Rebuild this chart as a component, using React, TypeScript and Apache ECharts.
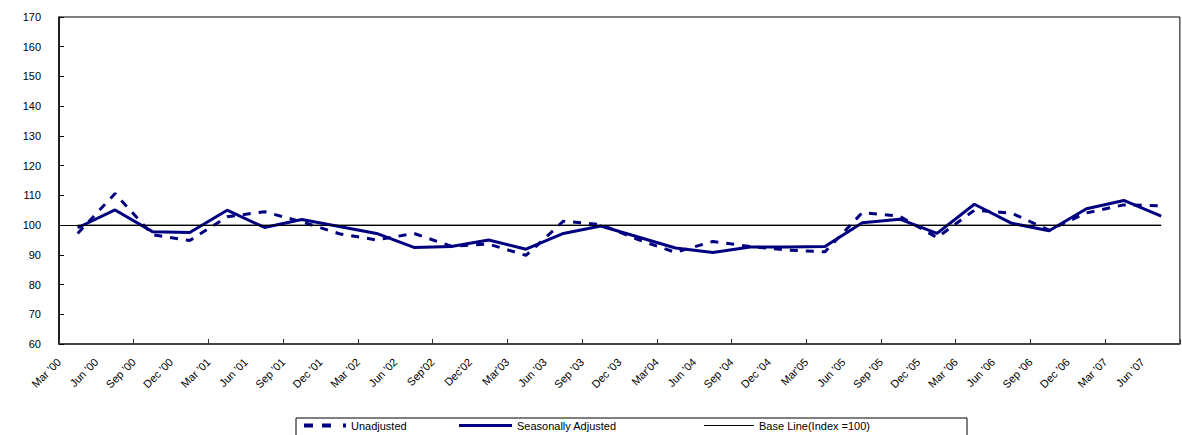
import React, { useEffect, useRef } from "react";
import * as echarts from "echarts";

const categories = [
  "Mar '00", "Jun '00", "Sep '00", "Dec '00",
  "Mar '01", "Jun '01", "Sep '01", "Dec '01",
  "Mar '02", "Jun '02", "Sep'02", "Dec'02",
  "Mar'03", "Jun '03", "Sep '03", "Dec '03",
  "Mar'04", "Jun '04", "Sep '04", "Dec '04",
  "Mar'05", "Jun '05", "Sep '05", "Dec '05",
  "Mar '06", "Jun '06", "Sep '06", "Dec '06",
  "Mar '07", "Jun '07",
];

const unadjusted = [
  97.2, 110.6, 96.8, 94.8, 102.8, 104.5, 101.1, 97.1, 95.0, 97.2,
  92.9, 93.6, 89.8, 101.3, 100.2, 95.1, 90.8, 94.5, 92.8, 91.6,
  91.0, 104.2, 103.0, 95.8, 105.0, 104.0, 98.3, 104.1, 106.8, 106.5,
];

const seasonallyAdjusted = [
  99.1, 105.1, 97.8, 97.5, 105.0, 99.2, 101.9, 99.5, 97.2, 92.5,
  92.8, 95.0, 91.9, 97.2, 99.7, 96.0, 92.3, 90.8, 92.6, 92.6,
  92.8, 100.8, 102.0, 97.2, 107.0, 100.6, 98.1, 105.5, 108.3, 103.0,
];

const baseValue = 100;
const baseLine = categories.map(() => baseValue);

const NAMES = ["Unadjusted", "Seasonally Adjusted", "Base Line(Index =100)"];
const NAVY = "#000080";
const FONT = "Arial, 'Liberation Sans', sans-serif";
const DASH_ICON = "path://M0,0h9v4h-9zM18,0h9v4h-9zM39,0h3v4h-3z";

export default function App() {
  const ref = useRef<HTMLDivElement>(null);

  useEffect(() => {
    if (!ref.current) return;
    const chart = echarts.init(ref.current, null, { renderer: "svg" });
    const legendCommon = {
      top: 420,
      padding: 0,
      textStyle: { fontSize: 11, color: "#000", fontFamily: FONT },
      selectedMode: false,
    };
    chart.setOption({
      animation: false,
      backgroundColor: "#fff",
      textStyle: { fontFamily: FONT },
      grid: {
        left: 59,
        top: 17,
        right: -6,
        bottom: 91,
        show: true,
        borderColor: "#000",
        borderWidth: 1,
        containLabel: false,
      },
      legend: [
        { ...legendCommon, left: 304, itemWidth: 42, itemHeight: 4, data: [{ name: NAMES[0], icon: DASH_ICON }] },
        { ...legendCommon, left: 459, itemWidth: 53, itemHeight: 3, data: [{ name: NAMES[1], icon: "rect" }] },
        { ...legendCommon, left: 704, itemWidth: 50, itemHeight: 1, data: [{ name: NAMES[2], icon: "rect" }] },
      ],
      graphic: [
        {
          type: "rect",
          shape: { x: 296, y: 418, width: 671, height: 24 },
          style: { fill: "none", stroke: "#000", lineWidth: 1 },
          silent: true,
        },
      ],
      xAxis: [
        {
          type: "category",
          data: categories,
          boundaryGap: true,
          axisLine: { show: true, lineStyle: { color: "#333", width: 1.5 } },
          axisTick: { show: true, inside: true, interval: 1, length: 5, lineStyle: { color: "#333" } },
          axisLabel: { show: false },
          splitLine: { show: false },
        },
        {
          type: "category",
          position: "bottom",
          data: [...categories, ""],
          boundaryGap: false,
          axisLine: { show: false },
          axisTick: { show: false },
          axisLabel: {
            interval: 0,
            rotate: 45,
            margin: 16,
            fontSize: 11,
            color: "#000",
            fontFamily: FONT,
          },
          splitLine: { show: false },
        },
      ],
      yAxis: {
        type: "value",
        min: 60,
        max: 170,
        interval: 10,
        axisLine: { show: true, lineStyle: { color: "#000", width: 1.5 } },
        axisTick: { show: true, inside: true, length: 5, lineStyle: { color: "#000" } },
        axisLabel: { margin: 18, fontSize: 11, color: "#000", fontFamily: FONT },
        splitLine: { show: false },
      },
      series: [
        {
          name: NAMES[2],
          type: "line",
          xAxisIndex: 0,
          data: baseLine,
          symbol: "none",
          lineStyle: { color: "#000", width: 1 },
          itemStyle: { color: "#000" },
          z: 1,
          markLine: {
            silent: true,
            symbol: "none",
            label: { show: false },
            lineStyle: { color: "#000", width: 1, type: "solid" },
            data: [[{ x: 59, yAxis: baseValue }, { xAxis: categories.length - 1, yAxis: baseValue }]],
          },
        },
        {
          name: NAMES[0],
          type: "line",
          xAxisIndex: 0,
          data: unadjusted,
          symbol: "none",
          lineStyle: { color: NAVY, width: 3, type: [8, 8] },
          itemStyle: { color: NAVY },
          z: 2,
        },
        {
          name: NAMES[1],
          type: "line",
          xAxisIndex: 0,
          data: seasonallyAdjusted,
          symbol: "none",
          lineStyle: { color: NAVY, width: 3 },
          itemStyle: { color: NAVY },
          z: 3,
        },
      ],
    });
    return () => chart.dispose();
  }, []);

  return (
    <div
      ref={ref}
      style={{ position: "absolute", left: 0, top: 0, width: 1182, height: 435 }}
    />
  );
}
